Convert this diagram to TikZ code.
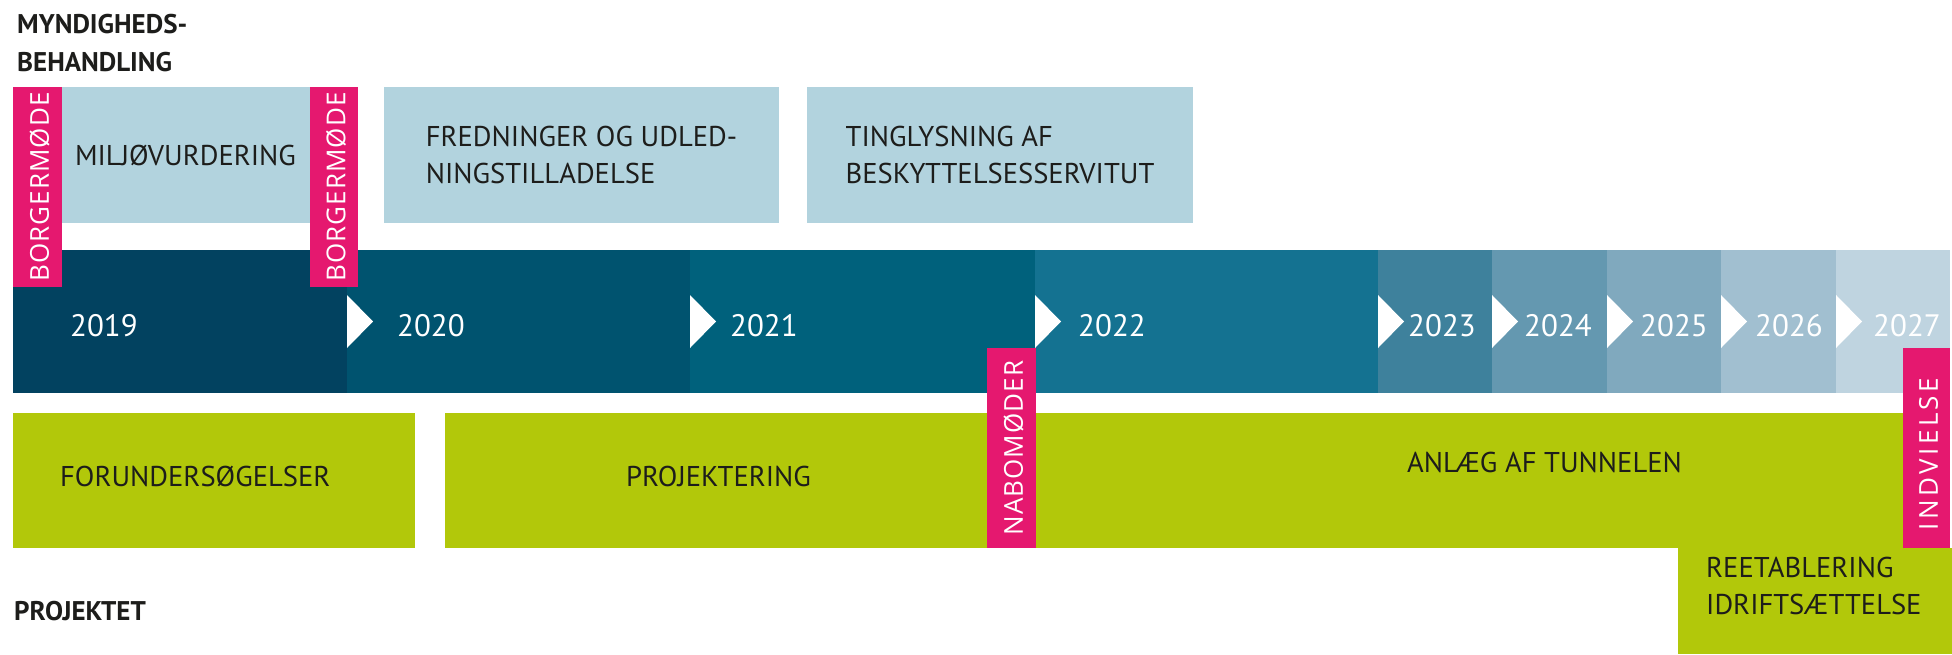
\documentclass[tikz,border=0pt]{standalone}
\usepackage{fontspec}
\setmainfont{PT Sans}
\newfontfamily\pinkfont[LetterSpace=4]{Open Sans}
\newfontfamily\pinkwide[LetterSpace=13]{Open Sans}
\definecolor{pinkc}{HTML}{E5186F}
\definecolor{lightbox}{HTML}{B2D3DE}
\definecolor{greenc}{HTML}{B2C80A}
\definecolor{txt}{HTML}{1D1D1B}
\definecolor{y19}{HTML}{024260}
\definecolor{y20}{HTML}{00536F}
\definecolor{y21}{HTML}{00617C}
\definecolor{y22}{HTML}{147291}
\definecolor{y23}{HTML}{3E819C}
\definecolor{y24}{HTML}{6498B0}
\definecolor{y25}{HTML}{80A9BE}
\definecolor{y26}{HTML}{A1BFD0}
\definecolor{y27}{HTML}{BFD4E0}
\begin{document}
\begin{tikzpicture}[x=1pt,y=-1pt,
  seg/.style={inner sep=0pt, outer sep=0pt, anchor=north west, minimum height=143pt},
  lbox/.style={fill=lightbox, inner sep=0pt, outer sep=0pt, anchor=north west, minimum height=136pt, align=left, text=txt, font=\fontsize{28.6}{37}\selectfont},
  gbox/.style={fill=greenc, inner sep=0pt, outer sep=0pt, anchor=north west},
  pinkbar/.style={fill=pinkc, inner sep=0pt, outer sep=0pt, anchor=north west, minimum height=200pt},
  pinklabel/.style={text=white, rotate=90, inner sep=0pt, font=\pinkfont\fontsize{26}{26}\selectfont},
  year/.style={text=white, anchor=base west, inner sep=0pt, font=\fontsize{31}{31}\selectfont},
  gtext/.style={text=txt, anchor=base west, inner sep=0pt, font=\fontsize{28.6}{37}\selectfont},
  title/.style={text=txt, anchor=base west, inner sep=0pt, align=left, font=\bfseries\fontsize{27}{38}\selectfont},
  yarrow/.style={fill=white}
]
\fill[white] (0,0) rectangle (1952,654);
\useasboundingbox (0,0) rectangle (1952,654);

% timeline segments
\node[seg, fill=y19, minimum width=334pt] (s19) at (13,250) {};
\node[seg, fill=y20, minimum width=343pt] (s20) at (347,250) {};
\node[seg, fill=y21, minimum width=345pt] (s21) at (690,250) {};
\node[seg, fill=y22, minimum width=343pt] (s22) at (1035,250) {};
\node[seg, fill=y23, minimum width=114pt] (s23) at (1378,250) {};
\node[seg, fill=y24, minimum width=115pt] (s24) at (1492,250) {};
\node[seg, fill=y25, minimum width=114pt] (s25) at (1607,250) {};
\node[seg, fill=y26, minimum width=115pt] (s26) at (1721,250) {};
\node[seg, fill=y27, minimum width=114pt] (s27) at (1836,250) {};

% arrows
\foreach \s in {s20,s21,s22,s23,s24,s25,s26,s27}{
  \fill[yarrow] (\s.west) ++(0,-26.5) -- ++(26,26.5) -- ++(-26,26.5) -- cycle;
}

% year labels
\node[year] (t19) at (70,336) {2019};
\node[year] (t20) at (397,336) {2020};
\node[year] (t21) at (730,336) {2021};
\node[year] (t22) at (1078,336) {2022};
\node[year] (t23) at (1408,336) {2023};
\node[year] (t24) at (1524,336) {2024};
\node[year] (t25) at (1640,336) {2025};
\node[year] (t26) at (1755,336) {2026};
\node[year] (t27) at (1873,336) {2027};

% light blue boxes
\node[lbox, minimum width=345pt] (b1) at (13,87) {MILJØVURDERING};
\node[lbox, minimum width=395pt] (b2) at (384,87) {FREDNINGER OG UDLED-\\NINGSTILLADELSE};
\node[lbox, minimum width=386pt] (b3) at (807,87) {TINGLYSNING AF\\BESKYTTELSESSERVITUT};

% green boxes
\node[gbox, minimum width=402pt, minimum height=135pt] (g1) at (13,413) {};
\node[gbox, minimum width=565pt, minimum height=135pt] (g2) at (445,413) {};
\node[gbox, minimum width=940pt, minimum height=135pt] (g3) at (1010,413) {};
\node[gbox, minimum width=274pt, minimum height=106pt] (g4) at (1678,548) {};

\node[gtext] (l1) at (60,486) {FORUNDERSØGELSER};
\node[gtext] (l2) at (626,486) {PROJEKTERING};
\node[gtext] (l3) at (1407,472) {ANLÆG AF TUNNELEN};
\node[gtext, align=left, anchor=north west] (l4) at (1706,557) {REETABLERING\\IDRIFTSÆTTELSE};

% pink bars
\node[pinkbar, minimum width=49pt] (p1) at (13,87) {};
\node[pinkbar, minimum width=48pt] (p2) at (310,87) {};
\node[pinkbar, minimum width=49pt] (p3) at (987,348) {};
\node[pinkbar, minimum width=47pt] (p4) at (1903,348) {};
\node[pinklabel] (m1) at ([xshift=2pt]p1.center) {BORGERMØDE};
\node[pinklabel] (m2) at ([xshift=2pt]p2.center) {BORGERMØDE};
\node[pinklabel] (m3) at ([xshift=2pt]p3.center) {NABOMØDER};
\node[pinklabel, font=\pinkwide\fontsize{26}{26}\selectfont] (m4) at ([xshift=2pt,yshift=-6pt]p4.center) {INDVIELSE};

% titles
\node[title] (h1) at (17,71) {MYNDIGHEDS-\\BEHANDLING};
\node[title] (h2) at (14,620) {PROJEKTET};
\end{tikzpicture}
\end{document}
